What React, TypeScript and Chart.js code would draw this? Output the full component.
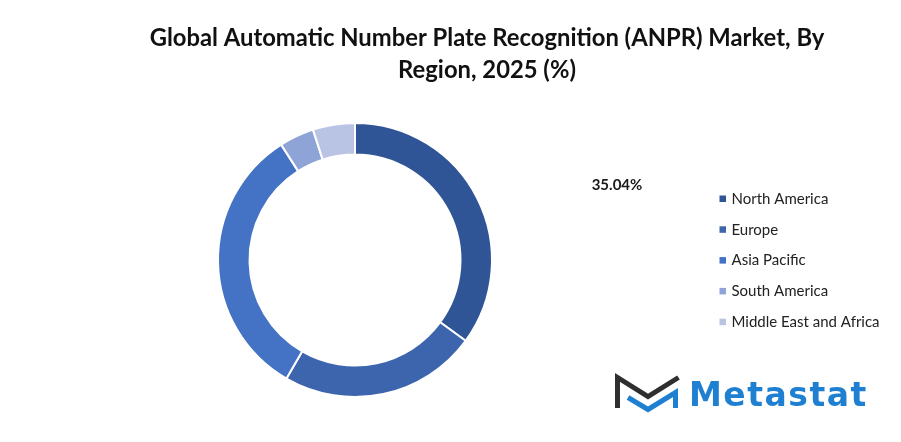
import React, { useEffect, useRef } from "react";
import { Chart, registerables } from "chart.js";

Chart.register(...registerables);

const titleLines = [
  "Global Automatic Number Plate Recognition (ANPR) Market, By",
  "Region, 2025 (%)",
];
const regions = ["North America", "Europe", "Asia Pacific", "South America", "Middle East and Africa"];
const shares = [35.04, 23.3, 32.6, 4.1, 4.96];
const colors = ["#2F5597", "#3C65AD", "#4472C4", "#8EA3D6", "#B9C4E5"];
const highlightedIndex = 0;

const overlayPlugin = {
  id: "overlay",
  afterDraw(chart: any) {
    const ctx = chart.ctx;
    ctx.save();
    // Title
    ctx.fillStyle = "#111111";
    ctx.textAlign = "center";
    ctx.textBaseline = "middle";
    ctx.font = "bold 23.8px Lato";
    ctx.fillText(titleLines[0], 487, 38);
    ctx.fillText(titleLines[1], 487, 70);

    // Highlighted value label
    const v = chart.data.datasets[0].data[highlightedIndex];
    ctx.font = "bold 15px Lato";
    ctx.fillStyle = "#1a1a1a";
    ctx.fillText(`${Number(v).toFixed(2)}%`, 617, 185);

    // Legend
    const labels = chart.data.labels;
    const bg = chart.data.datasets[0].backgroundColor;
    ctx.textAlign = "left";
    ctx.font = "15px Lato";
    labels.forEach((l: string, i: number) => {
      const y = 199 + i * 30.8;
      ctx.fillStyle = bg[i];
      ctx.fillRect(719.5, y - 3.5, 6.5, 6.5);
      ctx.fillStyle = "#222222";
      ctx.fillText(l, 731.5, y);
    });
    ctx.restore();
  },
};

function Logo() {
  return (
    <div style={{ position: "absolute", left: 0, top: 0, width: 901, height: 442, pointerEvents: "none" }}>
      <svg width={901} height={442} style={{ position: "absolute", left: 0, top: 0 }}>
        <polyline points="617.5,408 617.5,377.5 648,396.5 678.5,377.5" fill="none" stroke="#2f2f2f" strokeWidth={5} strokeLinejoin="miter" />
        <polyline points="628,397.5 648,409.5 675.5,392.5 675.5,408" fill="none" stroke="#1f80d2" strokeWidth={5} strokeLinejoin="miter" />
      </svg>
      <div
        style={{
          position: "absolute",
          left: 689,
          top: 375,
          fontFamily: "'DejaVu Sans', sans-serif",
          fontWeight: 700,
          fontSize: 33,
          lineHeight: "40px",
          color: "#1f80d2",
          letterSpacing: 1.5,
        }}
      >
        Metastat
      </div>
    </div>
  );
}

export default function App() {
  const ref = useRef<HTMLCanvasElement | null>(null);
  useEffect(() => {
    if (!ref.current) return;
    const chart = new Chart(ref.current, {
      type: "doughnut",
      data: {
        labels: regions,
        datasets: [
          {
            data: shares,
            backgroundColor: colors,
            borderColor: "#ffffff",
            borderWidth: 2,
          },
        ],
      },
      options: {
        responsive: false,
        animation: false,
        cutout: "77%",
        layout: { padding: { left: 217, right: 408, top: 122, bottom: 44 } },
        plugins: { legend: { display: false }, title: { display: false }, tooltip: { enabled: false } },
      },
      plugins: [overlayPlugin],
    });
    return () => chart.destroy();
  }, []);
  return (
    <div style={{ position: "absolute", left: 0, top: 0, width: 901, height: 442, background: "#fff" }}>
      <canvas ref={ref} width={901} height={442} style={{ position: "absolute", left: 0, top: 0 }} />
      <Logo />
    </div>
  );
}
